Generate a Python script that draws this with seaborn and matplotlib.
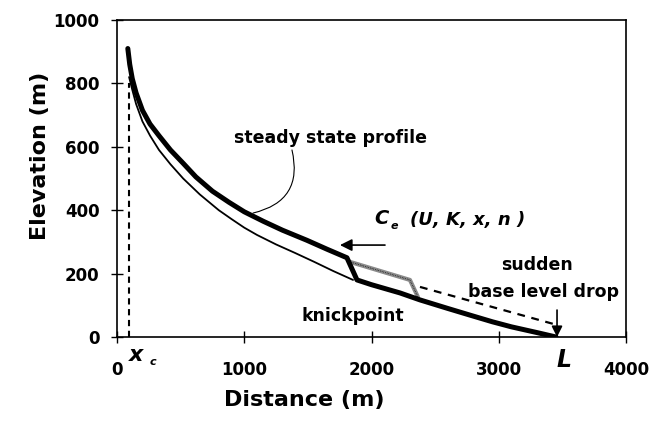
import matplotlib.pyplot as plt
import seaborn as sns

# steady state profile (thin line), upstream of the knickpoint
steady_x = [95, 120, 150, 200, 260, 330, 420, 520, 650, 800, 900, 1000,
            1100, 1250, 1400, 1550, 1700, 1855]
steady_y = [820, 780, 735, 680, 635, 590, 545, 500, 450, 400, 372, 345,
            322, 292, 265, 237, 208, 180]

# profile after base level drop (thick line): raised reach, knickpoint, lower reach
profile_x = [85, 100, 120, 150, 200, 259, 330, 420, 520, 620, 750, 880, 1000,
             1150, 1300, 1493, 1650, 1807,
             1886, 2000, 2224, 2381, 2600, 2774, 2950, 3100, 3300, 3450]
profile_y = [910, 860, 815, 770, 715, 672, 635, 590, 548, 505, 460, 425, 395,
             365, 337, 305, 277, 250,
             180, 165, 139, 117, 90, 69, 48, 32, 14, 0]

# migrated knickpoint (grey hatched) and old profile to the base (dashed)
migrated_x = [1831, 2302, 2365]
migrated_y = [237, 180, 126]
old_x = [2381, 3440]
old_y = [158, 40]

# critical distance x_c and length L
xc = 95
xc_y = [0, 800]
L = 3458

x_ticks = [0, 1000, 2000, 3000, 4000]
y_ticks = [0, 200, 400, 600, 800, 1000]

sns.set_style("ticks")
plt.rcParams['font.family'] = ['DejaVu Sans']
plt.rcParams['font.weight'] = 'bold'
plt.rcParams['text.color'] = 'black'
plt.rcParams['axes.labelcolor'] = 'black'
plt.rcParams['xtick.color'] = 'black'
plt.rcParams['ytick.color'] = 'black'

fig = plt.figure(figsize=(6.64, 4.24), dpi=100)
ax = fig.add_axes([117 / 664, 87 / 424, 509 / 664, 317 / 424])

sns.lineplot(x=[xc, xc], y=xc_y, color='black', lw=1.5,
             sort=False, estimator=None, ax=ax)
ax.lines[-1].set_dashes((3, 2.2))
sns.lineplot(x=steady_x, y=steady_y, color='black', lw=1.3,
             sort=False, estimator=None, ax=ax)
sns.lineplot(x=migrated_x, y=migrated_y, color='#8a8a8a', lw=3,
             sort=False, estimator=None, ax=ax)
sns.lineplot(x=migrated_x, y=migrated_y, color='black', lw=0.7,
             sort=False, estimator=None, ax=ax)
ax.lines[-1].set_dashes((0.6, 1.2))
sns.lineplot(x=old_x, y=old_y, color='black', lw=1.6,
             sort=False, estimator=None, ax=ax)
ax.lines[-1].set_dashes((3.5, 3))
sns.lineplot(x=profile_x, y=profile_y, color='black', lw=3.6,
             sort=False, estimator=None, ax=ax)
ax.lines[-1].set_solid_joinstyle('round')

# base level drop arrow
ax.annotate('', xy=(L, 0), xytext=(L, 85),
            arrowprops=dict(arrowstyle='-|>', color='black', lw=1.2,
                            mutation_scale=16, shrinkA=0, shrinkB=0))
# upstream migration arrow
ax.annotate('', xy=(1752, 290), xytext=(2106, 290),
            arrowprops=dict(arrowstyle='-|>', color='black', lw=1.2,
                            mutation_scale=18, shrinkA=0, shrinkB=0))
# leader for steady state label
ax.annotate('', xy=(1069, 391), xytext=(1375, 590),
            arrowprops=dict(arrowstyle='-', color='black', lw=0.8,
                            connectionstyle='arc3,rad=-0.5',
                            shrinkA=0, shrinkB=0))

ax.text(1674, 628, 'steady state profile', fontsize=12.5, ha='center', va='center')
ax.text(1855, 66, 'knickpoint', fontsize=12.5, ha='center', va='center')
ax.text(3301, 227, 'sudden', fontsize=12.5, ha='center', va='center')
ax.text(3348, 142, 'base level drop', fontsize=12.5, ha='center', va='center')
ax.text(2020, 375, 'C', fontsize=14, style='italic', ha='left', va='center')
ax.text(2150, 350, 'e', fontsize=8, style='italic', ha='left', va='center')
ax.text(2303, 369, '(U, K, x, n )', fontsize=13, style='italic', ha='left', va='center')
ax.text(3510, -73, 'L', fontsize=17, style='italic', ha='center', va='center', clip_on=False)
ax.text(149, -57, 'x', fontsize=16, style='italic', ha='center', va='center', clip_on=False)
ax.text(283, -79, 'c', fontsize=8, style='italic', ha='center', va='center', clip_on=False)

ax.set_xlim(0, 4000)
ax.set_ylim(0, 1000)
ax.set_xticks(x_ticks)
ax.set_yticks(y_ticks)
ax.tick_params(direction='inout', length=9, width=1, labelsize=12, colors='black')
ax.tick_params(axis='x', pad=13)
ax.tick_params(axis='y', pad=8)
for side in ['top', 'right', 'bottom', 'left']:
    ax.spines[side].set_visible(True)
    ax.spines[side].set_color('black')
    ax.spines[side].set_linewidth(1.2)

ax.set_xlabel('Distance (m)', fontsize=16, fontweight='bold')
ax.set_ylabel('Elevation (m)', fontsize=16, fontweight='bold')
ax.xaxis.set_label_coords(0.367, -0.199)
ax.xaxis.label.set_va('center')
ax.yaxis.set_label_coords(-0.151, 0.571)
ax.yaxis.label.set_va('center')

fig.savefig('out.png', dpi=100)
